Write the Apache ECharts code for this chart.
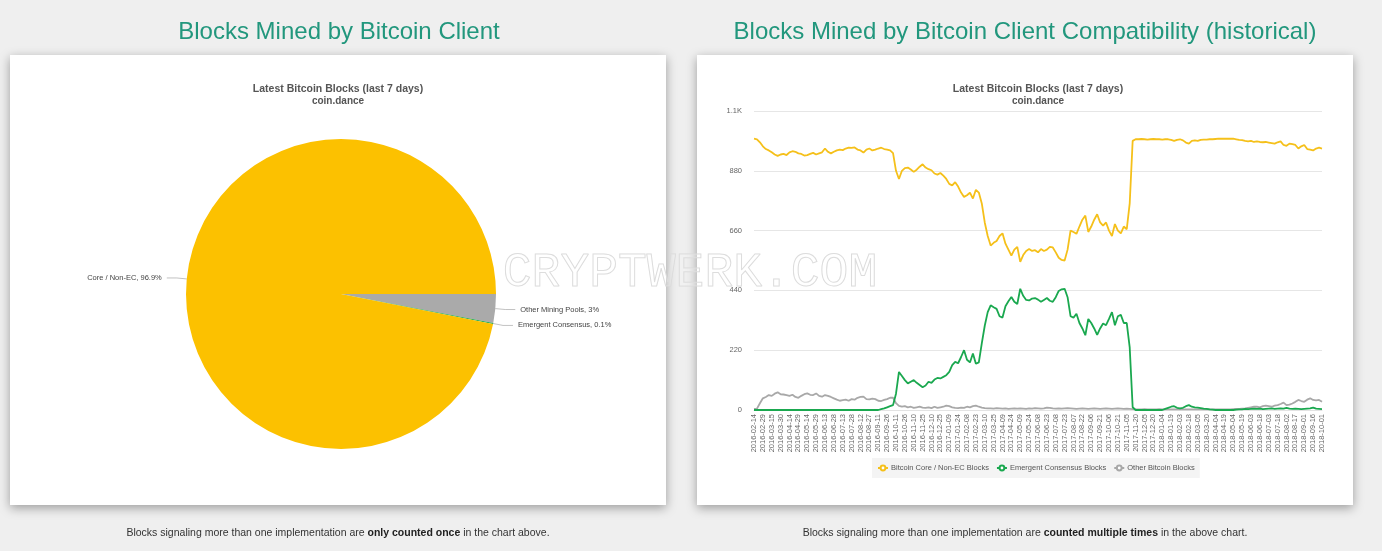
<!DOCTYPE html>
<html>
<head>
<meta charset="utf-8">
<script src="https://cdn.jsdelivr.net/npm/echarts@6/dist/echarts.min.js"></script>
<style>
html,body{margin:0;padding:0;background:#efefef;}
#c{width:1382px;height:551px;}
</style>
</head>
<body>
<div id="c"></div>
<script>
// ---------- Pie data (left chart) ----------
const pieNames = ['Other Mining Pools', 'Emergent Consensus', 'Core / Non-EC'];
const pieValues = [3, 0.1, 96.9];

// ---------- Line data (right chart), one value every 5 days from 2016-02-14 ----------
const startDate = '2016-02-14';
const stepDays = 5;
const pointCount = 193;

const seriesNames = ['Bitcoin Core / Non-EC Blocks', 'Emergent Consensus Blocks', 'Other Bitcoin Blocks'];

const coreBlocks = [
  998, 996, 985, 970, 960, 955, 948, 940, 935, 940,
  942, 938, 948, 952, 950, 944, 942, 936, 938, 942,
  946, 940, 944, 948, 962, 950, 944, 950, 955, 958,
  956, 962, 965, 964, 966, 958, 955, 947, 958, 962,
  955, 958, 962, 965, 960, 958, 955, 945, 880, 850,
  880, 890, 892, 885, 876, 884, 895, 904, 892, 886,
  882, 870, 866, 872, 862, 850, 832, 826, 838, 822,
  800, 784, 790, 800, 778, 810, 800, 760, 690, 640,
  605, 615, 622, 640, 650, 612, 590, 568, 590, 600,
  545, 570, 585, 592, 585, 588, 580, 592, 585, 590,
  600, 598, 580, 560, 552, 550, 590, 660, 655, 648,
  675, 700, 715, 655, 675, 700, 720, 690, 678, 690,
  660, 640, 684, 660, 650, 675, 665, 760, 990, 996,
  996, 997, 996, 995, 996, 997, 996, 996, 995, 996,
  996, 994, 990, 994, 996, 992, 984, 980, 990, 992,
  990, 994, 995, 995, 996, 996, 997, 998, 998, 998,
  998, 998, 998, 996, 994, 993, 990, 988, 990, 986,
  988, 986, 985, 986, 984, 982, 980, 985, 988, 975,
  972, 980, 978, 975, 962, 970, 975, 960, 958, 955,
  962, 965, 962
];

const ecBlocks = [
  0, 0, 0, 0, 0, 0, 0, 0, 0, 0,
  0, 0, 0, 0, 0, 0, 0, 0, 0, 0,
  0, 0, 0, 0, 0, 0, 0, 0, 0, 0,
  0, 0, 0, 0, 0, 0, 0, 0, 0, 0,
  0, 0, 0, 3, 6, 10, 14, 18, 60, 140,
  125, 110, 98, 104, 110, 100, 92, 84, 90, 104,
  100, 112, 118, 116, 122, 128, 140, 165, 177, 172,
  195, 220, 185, 175, 208, 170, 175, 245, 310, 360,
  385, 378, 372, 345, 340, 382, 400, 416, 398, 390,
  446, 420, 405, 403, 410, 412, 406, 398, 405, 412,
  402, 398, 415, 438, 444, 446, 415, 345, 340, 354,
  320, 300, 275, 335, 320, 300, 276, 300, 318, 312,
  335, 360, 312, 345, 350, 320, 320, 230, 10, 0,
  0, 0, 0, 0, 0, 0, 0, 0, 0, 4,
  8, 12, 14, 8, 6, 8, 14, 18, 12, 10,
  9, 7, 5, 4, 2, 1, 0, 0, 0, 0,
  0, 0, 0, 1, 2, 2, 4, 3, 4, 5,
  4, 5, 3, 4, 5, 6, 4, 5, 6, 5,
  8, 5, 4, 5, 4, 3, 4, 5, 6, 9,
  5, 4, 3
];

const otherBlocks = [
  4, 5, 25, 43, 48, 55, 52, 60, 65, 58,
  57, 55, 52, 56, 48, 45, 52, 58, 61, 56,
  55, 61, 52, 49, 55, 52, 48, 43, 38, 34,
  36, 38, 34, 40, 38, 45, 48, 49, 40, 39,
  42, 40, 34, 33, 37, 40, 45, 45, 25, 15,
  12, 14, 10, 12, 8, 10, 12, 9, 8, 10,
  7, 12, 8, 10, 12, 16, 14, 10, 8, 7,
  9, 8, 12, 10, 14, 16, 12, 9, 7, 6,
  6, 5, 7, 6, 5, 6, 4, 5, 6, 5,
  6, 5, 4, 6, 5, 7, 6, 5, 6, 9,
  8, 6, 5, 6, 5, 6, 7, 6, 5, 4,
  5, 6, 5, 4, 5, 6, 5, 4, 5, 6,
  5, 4, 5, 6, 5, 4, 5, 4, 3, 2,
  2, 2, 3, 2, 2, 2, 2, 3, 2, 2,
  2, 2, 2, 2, 2, 2, 2, 2, 2, 2,
  2, 2, 2, 2, 2, 2, 2, 2, 2, 2,
  2, 2, 3, 4, 4, 5, 6, 8, 10, 12,
  12, 10, 14, 16, 14, 12, 16, 18, 22, 27,
  18, 20, 24, 30, 37, 33, 30, 38, 43, 37,
  35, 37, 30
];

const yTicks = [0, 220, 440, 660, 880, 1100];

// category labels (dates)
const dates = [];
(function () {
  const t0 = Date.parse(startDate + 'T00:00:00Z');
  for (let i = 0; i < pointCount; i++) {
    dates.push(new Date(t0 + i * stepDays * 86400000).toISOString().slice(0, 10));
  }
})();

const colors = { core: '#f5c01a', ec: '#1aa84f', other: '#a8a8a8', pieCore: '#fcc100', pieOther: '#aaaaaa', pieEc: '#1aa84f' };

const chart = echarts.init(document.getElementById('c'), null, { renderer: 'canvas' });

const option = {
  animation: false,
  backgroundColor: '#efefef',
  textStyle: { fontFamily: 'Liberation Sans' },
  graphic: [
    { type: 'rect', z: -10, shape: { x: 10, y: 55, width: 656, height: 450 },
      style: { fill: '#ffffff', shadowBlur: 10, shadowOffsetY: 3, shadowColor: 'rgba(0,0,0,0.35)' } },
    { type: 'rect', z: -10, shape: { x: 697, y: 55, width: 656, height: 450 },
      style: { fill: '#ffffff', shadowBlur: 10, shadowOffsetY: 3, shadowColor: 'rgba(0,0,0,0.35)' } },
    { type: 'text', x: 339, y: 32, style: { text: 'Blocks Mined by Bitcoin Client', textAlign: 'center', textVerticalAlign: 'middle',
      fill: '#22977d', font: '24px "Liberation Sans"' } },
    { type: 'text', x: 1025, y: 32, style: { text: 'Blocks Mined by Bitcoin Client Compatibility (historical)', textAlign: 'center', textVerticalAlign: 'middle',
      fill: '#22977d', font: '24px "Liberation Sans"' } },
    { type: 'text', x: 338, y: 89, style: { text: 'Latest Bitcoin Blocks (last 7 days)', textAlign: 'center', textVerticalAlign: 'middle',
      fill: '#555', font: 'bold 10.5px "Liberation Sans"' } },
    { type: 'text', x: 338, y: 101, style: { text: 'coin.dance', textAlign: 'center', textVerticalAlign: 'middle',
      fill: '#555', font: 'bold 10px "Liberation Sans"' } },
    { type: 'text', x: 1038, y: 89, style: { text: 'Latest Bitcoin Blocks (last 7 days)', textAlign: 'center', textVerticalAlign: 'middle',
      fill: '#555', font: 'bold 10.5px "Liberation Sans"' } },
    { type: 'text', x: 1038, y: 101, style: { text: 'coin.dance', textAlign: 'center', textVerticalAlign: 'middle',
      fill: '#555', font: 'bold 10px "Liberation Sans"' } },
    { type: 'text', x: 338, y: 533, style: { text: 'Blocks signaling more than one implementation are {b|only counted once} in the chart above.',
      textAlign: 'center', textVerticalAlign: 'middle', fill: '#333', fontSize: 10.5, fontFamily: 'Liberation Sans',
      rich: { b: { fontWeight: 'bold', fontSize: 10.5, fill: '#222', fontFamily: 'Liberation Sans' } } } },
    { type: 'text', x: 1025, y: 533, style: { text: 'Blocks signaling more than one implementation are {b|counted multiple times} in the above chart.',
      textAlign: 'center', textVerticalAlign: 'middle', fill: '#333', fontSize: 10.5, fontFamily: 'Liberation Sans',
      rich: { b: { fontWeight: 'bold', fontSize: 10.5, fill: '#222', fontFamily: 'Liberation Sans' } } } },
    { type: 'text', x: 690, y: 273, z: 100, style: { text: 'CRYPTWERK.COM', textAlign: 'center', textVerticalAlign: 'middle',
      fill: 'rgba(255,255,255,0.15)', stroke: '#dadada', lineWidth: 1, font: '48px "Liberation Mono"' } }
  ],
  legend: {
    data: seriesNames,
    left: 872, top: 458,
    backgroundColor: '#f4f4f4',
    padding: [6, 5],
    itemGap: 7,
    itemWidth: 10, itemHeight: 6,
    textStyle: { fontSize: 7.5, color: '#555', fontFamily: 'Liberation Sans', padding: [0, 0, 0, -2] }
  },
  grid: { left: 754, top: 111, width: 568, height: 299 },
  xAxis: {
    type: 'category', data: dates, boundaryGap: false,
    axisTick: { show: false },
    axisLine: { lineStyle: { color: '#e3e3e3' } },
    axisLabel: { interval: 2, rotate: 90, fontSize: 7.5, color: '#666', margin: 4, fontFamily: 'Liberation Sans' }
  },
  yAxis: {
    type: 'value', min: yTicks[0], max: yTicks[yTicks.length - 1], interval: 220,
    axisLine: { show: false }, axisTick: { show: false },
    splitLine: { lineStyle: { color: '#e6e6e6', width: 1 } },
    axisLabel: { fontSize: 7.5, color: '#666', margin: 12, fontFamily: 'Liberation Sans',
      formatter: v => v >= 1000 ? (v / 1000) + 'K' : String(v) }
  },
  series: [
    { name: seriesNames[0], type: 'line', data: coreBlocks, showSymbol: false, symbol: 'emptyCircle',
      itemStyle: { color: colors.core }, lineStyle: { color: colors.core, width: 1.8 }, z: 3 },
    { name: seriesNames[1], type: 'line', data: ecBlocks, showSymbol: false, symbol: 'emptyCircle',
      itemStyle: { color: colors.ec }, lineStyle: { color: colors.ec, width: 1.8 }, z: 3 },
    { name: seriesNames[2], type: 'line', data: otherBlocks, showSymbol: false, symbol: 'emptyCircle',
      itemStyle: { color: colors.other }, lineStyle: { color: colors.other, width: 1.8 }, z: 2 },
    {
      type: 'pie', center: [341, 294], radius: 155, startAngle: 0, clockwise: true,
      data: pieNames.map((n, i) => ({ name: n, value: pieValues[i],
        itemStyle: { color: [colors.pieOther, colors.pieEc, colors.pieCore][i] } })),
      label: { formatter: '{b}, {c}%', fontSize: 7.5, color: '#444', fontFamily: 'Liberation Sans' },
      labelLine: { length: 10, length2: 10, lineStyle: { color: '#999', width: 0.6 } },
      emphasis: { disabled: true }
    }
  ]
};
chart.setOption(option);
</script>
</body>
</html>
